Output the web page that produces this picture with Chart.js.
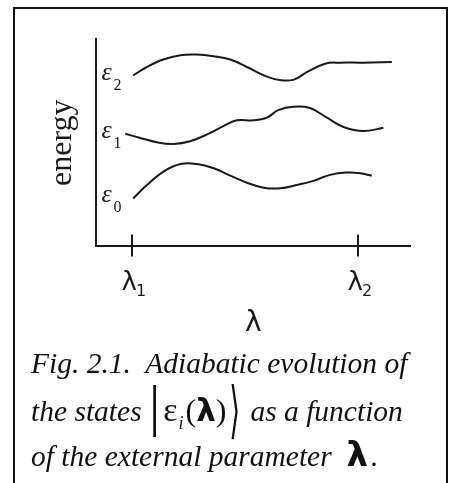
<!DOCTYPE html>
<html>
<head>
<meta charset="utf-8">
<script src="https://cdn.jsdelivr.net/npm/chart.js@4.4.1/dist/chart.umd.min.js"></script>
<style>
  html, body { margin: 0; padding: 0; background: #fff; width: 449px; height: 483px; overflow: hidden; }
  #frame { position: absolute; left: 13px; top: 7px; width: 431px; height: 600px; border: 2px solid #111; }
  #wrap { position: absolute; left: 0; top: 0; width: 449px; height: 350px; }
  .cap { position: absolute; left: 31px; font-family: 'Liberation Serif', serif; font-style: italic;
         font-size: 29.5px; line-height: 29px; color: #111; white-space: nowrap; }
  .eps { font-style: normal; font-size: 34px; line-height: 0; margin-left: 3px; }
  .bar { font-style: normal; font-size: 56px; line-height: 0; position: relative; top: 4px; }
  .ket { font-family: 'DejaVu Serif', serif; font-style: normal; font-size: 40px; line-height: 0;
         display: inline-block; transform: scale(0.7, 1.55); position: relative; top: 2px; margin: 0 0 0 1px; }
  .lam { font-family: 'DejaVu Sans', sans-serif; font-style: normal; font-weight: bold; }
  .sub { font-size: 18px; line-height: 0; position: relative; top: 8px; margin: 0 2px 0 1px; }
  .paren { font-style: normal; font-size: 32px; line-height: 0; }
</style>
</head>
<body>
<div id="frame"></div>
<div id="wrap"><canvas id="levels"></canvas></div>
<div class="cap" style="top:349px">Fig. 2.1.&nbsp; Adiabatic evolution of</div>
<div class="cap" style="top:397px">the states <span class="bar">|</span><span class="eps">ε</span><span class="sub">i</span><span class="paren">(</span><span class="lam" style="font-size:31px;line-height:0">λ</span><span class="paren">)</span><span class="ket">⟩</span> as a function</div>
<div class="cap" style="top:442px">of the external parameter&nbsp; <span class="lam" style="font-size:34px;line-height:0">λ</span><span style="margin-left:3px">.</span></div>

<script>
// energy levels along the parameter axis (arbitrary units)
const lambdaTicks = [1.15, 8.34];
const lambdaNames = ['1', '2'];
const levelNames = ['0', '1', '2'];

const lam0 = [1.17, 1.61, 2.14, 2.68, 3.21, 3.74, 4.27, 4.80, 5.33, 5.86, 6.39, 6.92, 7.45, 7.98, 8.41, 8.78];
const e0 = [2.31, 2.96, 3.61, 3.97, 3.97, 3.77, 3.41, 3.07, 2.83, 2.80, 2.96, 3.16, 3.45, 3.56, 3.53, 3.41];

const lam1 = [0.92, 1.40, 1.93, 2.46, 2.99, 3.53, 4.05, 4.48, 5.01, 5.44, 5.80, 6.28, 6.81, 7.35, 7.88, 8.51, 9.15];
const e1 = [5.43, 5.23, 5.02, 4.94, 5.07, 5.40, 5.80, 6.08, 6.08, 6.21, 6.57, 6.73, 6.67, 6.21, 5.76, 5.56, 5.72];

const lam2 = [1.17, 1.61, 2.13, 2.68, 3.21, 3.73, 4.27, 4.80, 5.35, 5.81, 6.28, 6.71, 7.29, 7.77, 8.51, 9.42];
const e2 = [8.24, 8.65, 9.01, 9.22, 9.25, 9.17, 9.01, 8.65, 8.24, 8.03, 8.03, 8.40, 8.81, 8.86, 8.86, 8.89];

const ink = '#1a1a1a';

function series(xs, ys) {
    return xs.map((x, i) => ({ x: x, y: ys[i] }));
}

function level(xs, ys) {
    return {
        data: series(xs, ys),
        borderColor: ink,
        borderWidth: 2,
        pointRadius: 0,
        tension: 0.4,
        fill: false
    };
}

// tick marks crossing the axis, subscripted tick labels and level names
const decorations = {
    id: 'decorations',
    afterDraw(chart) {
        const { ctx, scales: { x, y } } = chart;
        const axisY = y.getPixelForValue(0);
        ctx.save();
        ctx.strokeStyle = ink;
        ctx.fillStyle = ink;
        ctx.lineWidth = 2;
        lambdaTicks.forEach((v, i) => {
            const px = Math.round(x.getPixelForValue(v));
            ctx.beginPath();
            ctx.moveTo(px, axisY - 12);
            ctx.lineTo(px, axisY + 10);
            ctx.stroke();
            ctx.textBaseline = 'alphabetic';
            ctx.textAlign = 'right';
            ctx.font = '26px "DejaVu Sans"';
            ctx.fillText('λ', px + 5, axisY + 44);
            ctx.textAlign = 'left';
            ctx.font = '16px "DejaVu Sans"';
            ctx.fillText(lambdaNames[i], px + 4, axisY + 50);
        });

        chart.data.datasets.forEach((ds, i) => {
            const py = y.getPixelForValue(ds.data[0].y);
            const left = x.left + 5;
            ctx.textAlign = 'left';
            ctx.textBaseline = 'alphabetic';
            ctx.font = 'italic 26px "Liberation Serif"';
            ctx.fillText('ε', left, py + 4);
            ctx.font = '16px "Liberation Serif"';
            ctx.fillText(levelNames[i], left + 12, py + 14);
        });
        ctx.restore();
    }
};

new Chart(document.getElementById('levels'), {
    type: 'line',
    data: {
        datasets: [level(lam0, e0), level(lam1, e1), level(lam2, e2)]
    },
    options: {
        responsive: true,
        maintainAspectRatio: false,
        animation: false,
        layout: { padding: { left: 38, top: 39, right: 39, bottom: 5 } },
        plugins: { legend: { display: false }, tooltip: { enabled: false } },
        scales: {
            x: {
                type: 'linear',
                min: 0,
                max: 10,
                grid: { display: false, drawTicks: false },
                border: { color: ink, width: 2 },
                ticks: { display: false },
                title: {
                    display: true,
                    text: 'λ',
                    color: ink,
                    font: { family: 'DejaVu Sans', size: 28 },
                    padding: { top: 61, bottom: 4 }
                }
            },
            y: {
                min: 0,
                max: 10,
                grid: { display: false, drawTicks: false },
                border: { color: ink, width: 2 },
                ticks: { display: false },
                title: {
                    display: true,
                    text: 'energy',
                    color: ink,
                    font: { family: 'Liberation Serif', size: 32 },
                    padding: { top: 5, bottom: 15 }
                }
            }
        }
    },
    plugins: [decorations]
});
</script>
</body>
</html>
